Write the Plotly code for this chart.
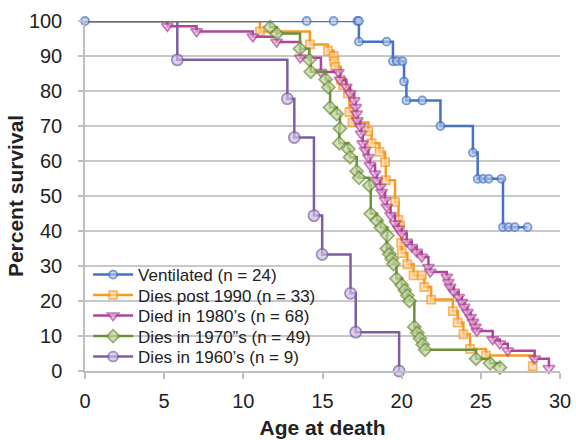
import plotly.graph_objects as go

# ---------------- data ----------------
vent_x = [0, 14.0, 15.7, 17.2, 17.3, 17.3, 19.05, 19.45, 19.7, 20.05, 20.15, 20.3, 21.3,
          22.45, 24.5, 24.8, 25.15, 25.5, 26.3, 26.4, 26.75, 27.15, 27.95]
vent_y = [100, 100, 100, 100, 100, 94.1, 94.1, 88.5, 88.5, 88.5, 82.7, 77.3, 77.3,
          70.0, 62.4, 54.9, 54.9, 54.9, 54.9, 41.1, 41.1, 41.1, 41.1]

post90_x = [0, 11.05, 14.2, 15.35, 15.7, 15.75, 15.8, 16.15, 16.3, 16.6, 16.7, 16.9, 17.9,
            18.1, 18.6, 18.95, 19.0, 19.58, 19.8, 19.9, 19.96, 20.0, 20.36, 20.75, 21.27,
            21.43, 21.86, 23.23, 23.54, 23.9, 24.32, 25.33, 28.28]
post90_y = [100, 97.0, 93.3, 91.5, 90.0, 88.5, 86.9, 83.2, 81.6, 79.3, 74.0, 71.0, 68.5,
            65.1, 62.6, 59.7, 54.5, 48.3, 43.2, 41.6, 36.6, 33.7, 30.5, 27.3, 27.3,
            24.0, 20.4, 17.1, 13.8, 10.5, 6.3, 4.4, 1.4]

d80_x = [0, 5.2, 7.05, 10.6, 12.1, 13.6, 14.9, 16.0, 16.1, 16.5, 16.74, 17.0, 17.1, 17.15,
         17.2, 17.37, 17.44, 17.54, 17.69, 17.9, 18.0, 18.32, 18.43, 18.64, 18.74, 18.95,
         19.06, 19.3, 19.58, 19.79, 20.0, 20.32, 20.64, 20.95, 21.27, 21.69, 21.8, 22.85,
         22.95, 23.06, 23.3, 23.6, 23.8, 23.95, 24.15, 24.35, 24.5, 24.65, 24.75, 25.75,
         26.2, 26.7, 28.4, 29.3]
d80_y = [100, 98.5, 97.0, 95.5, 94.0, 89.5, 85.4, 85.4, 83.2, 81.2, 79.3, 77.3, 75.4, 73.5,
         71.6, 69.9, 67.8, 65.0, 63.1, 61.1, 58.8, 56.4, 54.5, 52.6, 51.1, 48.8,
         46.9, 44.5, 42.1, 40.7, 39.3, 36.9, 35.4, 34.0, 32.6, 29.7, 28.3, 26.9,
         25.4, 24.0, 22.6, 21.1, 19.7, 18.3, 16.8, 15.4, 14.0, 12.6, 11.4, 9.0,
         7.8, 5.8, 3.5, 0.8]

d70_x = [0, 11.69, 12.11, 13.58, 14.17, 14.26, 15.2, 15.37, 15.48, 15.9, 16.1, 16.06,
         16.63, 16.74, 17.16, 17.31, 17.96, 18.05, 18.43, 18.68, 19.1, 19.06, 19.22,
         19.37, 19.48, 19.67, 20.0, 20.2, 20.36, 20.49, 20.8, 20.99, 21.16, 21.33, 21.48,
         24.7, 25.58, 26.2]
d70_y = [100, 98.2, 96.4, 92.1, 88.9, 85.5, 83.3, 81.1, 75.3, 73.4, 69.3, 65.1,
         63.4, 61.1, 57.1, 55.2, 53.0, 44.9, 43.0, 41.0, 38.7, 35.0, 33.4,
         32.1, 30.6, 26.4, 24.6, 23.1, 21.6, 20.0, 12.6, 10.9, 9.3, 7.6, 6.1,
         3.5, 2.2, 1.0]

d60_x = [0, 5.83, 12.78, 13.22, 14.46, 14.98, 16.77, 17.1, 19.84]
d60_y = [100, 88.9, 77.8, 66.7, 44.4, 33.3, 22.2, 11.1, 0]

names = ["Ventilated (n = 24)", "Dies post 1990 (n = 33)", "Died in 1980\u2019s (n = 68)",
         "Dies in 1970\u201ds (n = 49)", "Dies in 1960\u2019s (n = 9)"]

x_ticks = [0, 5, 10, 15, 20, 25, 30]
y_ticks = [0, 10, 20, 30, 40, 50, 60, 70, 80, 90, 100]

# ---------------- style ----------------
styles = [
    dict(color="#4472C4", fill="#B4C4E8", symbol="circle", size=8),
    dict(color="#F79A22", fill="#FCD9A6", symbol="square", size=8),
    dict(color="#B0449A", fill="#E8B8DC", symbol="triangle-down", size=10),
    dict(color="#6E8E3A", fill="#C3D6A4", symbol="diamond", size=10),
    dict(color="#7B5FA3", fill="#CDBEE2", symbol="circle", size=11),
]
series = [(vent_x, vent_y), (post90_x, post90_y), (d80_x, d80_y), (d70_x, d70_y), (d60_x, d60_y)]
legend_ids = ["legend", "legend2", "legend3", "legend4", "legend5"]
row_centers_px = [275, 295.5, 316, 336.5, 357]

PLOT_TOP, PLOT_BOTTOM = 21, 371

fig = go.Figure()
draw_order = [4, 1, 2, 3, 0]
for i in draw_order:
    xs, ys = series[i]
    st = styles[i]
    sizes = [st["size"]] * len(xs)
    if i != 0:
        sizes[0] = 0
    fig.add_trace(go.Scatter(
        x=xs, y=ys, name=names[i], mode="lines+markers",
        line=dict(color=st["color"], width=2.5, shape="hv"),
        marker=dict(symbol=st["symbol"], size=sizes, color=st["fill"],
                    line=dict(color=st["color"], width=1.8)),
        legend=legend_ids[i], cliponaxis=False,
    ))

font = "Liberation Sans, Arial, sans-serif"
legend_layout = {}
for i, lid in enumerate(legend_ids):
    ypaper = (PLOT_BOTTOM - row_centers_px[i]) / (PLOT_BOTTOM - PLOT_TOP)
    legend_layout[lid] = dict(x=0.0065, y=ypaper, xanchor="left", yanchor="middle",
                              bgcolor="rgba(0,0,0,0)", font=dict(size=17, family=font),
                              itemwidth=40, borderwidth=0)

fig.update_layout(
    width=576, height=440,
    margin=dict(l=85, r=16, t=PLOT_TOP, b=440 - PLOT_BOTTOM, autoexpand=False),
    paper_bgcolor="white", plot_bgcolor="white",
    font=dict(family=font, size=17, color="#222222"),
    showlegend=True,
    xaxis=dict(range=[0, 30], tickvals=x_ticks, showgrid=False, zeroline=False,
               showline=True, linecolor="#BFBFBF", linewidth=1.5, automargin=False,
               ticks="outside", ticklen=6, tickcolor="#BFBFBF", tickwidth=1.5,
               tickfont=dict(size=20), ticklabelstandoff=5,
               title=dict(text="<b>Age at death</b>", font=dict(size=21), standoff=10)),
    yaxis=dict(range=[0, 100], tickvals=y_ticks, showgrid=True, gridcolor="#C8C8C8",
               gridwidth=1.5, zeroline=False, showline=True, linecolor="#BFBFBF",
               linewidth=1.5, ticks="outside", ticklen=5, tickcolor="#BFBFBF",
               automargin=False,
               tickwidth=1.5, tickfont=dict(size=20), ticklabelstandoff=12,
               title=dict(text="<b>Percent survival</b>", font=dict(size=21), standoff=0)),
    **legend_layout,
)

fig.write_html("out.html")
